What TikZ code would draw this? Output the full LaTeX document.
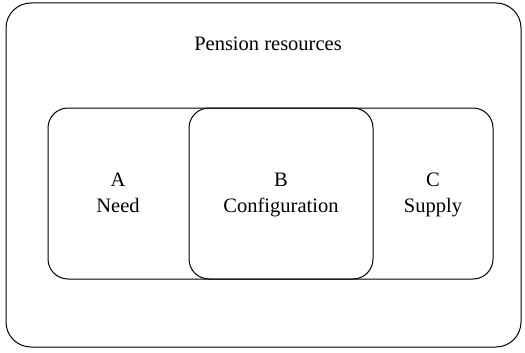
\documentclass[tikz,border=0pt]{standalone}
\usepackage{fontspec}
\setmainfont{Liberation Serif}
\usetikzlibrary{positioning}

\begin{document}
\begin{tikzpicture}[x=1pt, y=-1pt, line width=1pt,
    label/.style={align=center, anchor=base, inner sep=0pt,
                  font=\fontsize{20.5}{26}\selectfont}]
  \useasboundingbox (0,0) rectangle (525,353);
  % frames
  \draw[rounded corners=25pt] (6,3) rectangle (521,347);
  \draw[rounded corners=20pt] (48,108) rectangle (493,279);
  \draw[rounded corners=20pt] (189,108) rectangle (373,279);

  \node[label] (res) at (268,51) {Pension resources};
  \node[label] (need) at (118,212) {A\\Need};
  \node[label] (conf) at (281,212) {B\\Configuration};
  \node[label] (sup) at (433,212) {C\\Supply};
\end{tikzpicture}
\end{document}
